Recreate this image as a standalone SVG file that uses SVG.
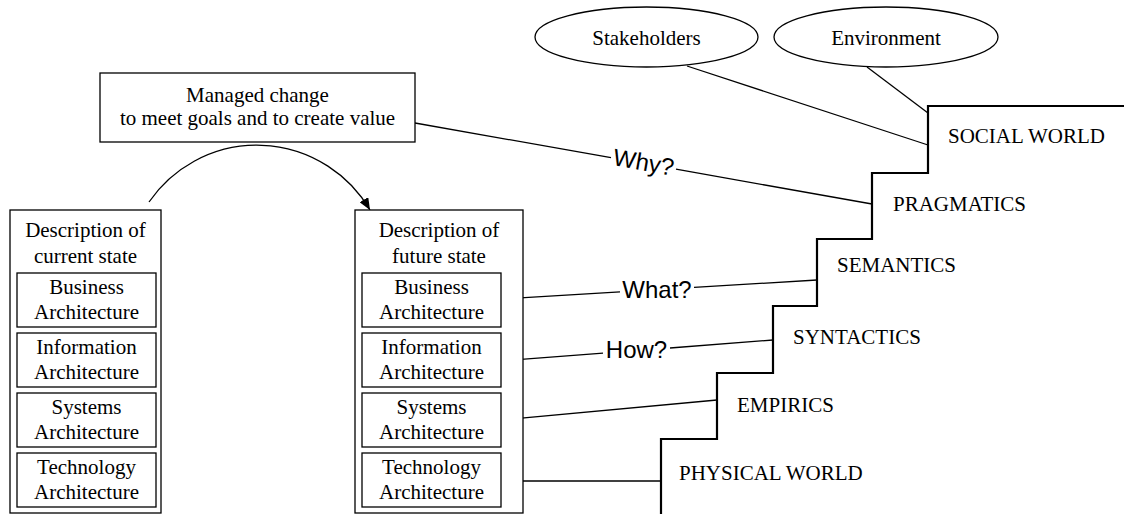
<svg xmlns="http://www.w3.org/2000/svg" width="1124" height="514" viewBox="0 0 1124 514">
  <style>
    .box { fill: #fff; stroke: #000; stroke-width: 1.3; }
    .ell { fill: #fff; stroke: #000; stroke-width: 1.3; }
    .line { fill: none; stroke: #000; stroke-width: 1.3; }
    .stair { fill: none; stroke: #000; stroke-width: 2.2; stroke-linejoin: miter; }
    .serif { font-family: "Liberation Serif", "Times New Roman", serif; font-size: 21px; fill: #000; }
    .mid { text-anchor: middle; }
    .sans { font-family: "Liberation Sans", Arial, sans-serif; font-size: 24px; fill: #000; text-anchor: middle; }
  </style>
  <defs>
    <marker id="arrow" viewBox="0 0 12 10" refX="12" refY="5" markerWidth="12" markerHeight="10" markerUnits="userSpaceOnUse" orient="auto">
      <path d="M0,0 L12,5 L0,10 Z" fill="#000"/>
    </marker>
  </defs>

  <rect width="1124" height="514" fill="#fff"/>

  <!-- semiotic staircase -->
  <g id="staircase">
    <path class="stair" d="M661,514 V439 H717 V373 H773 V306 H817 V239 H872 V173 H928 V106 H1124"/>
    <text class="serif" x="948" y="143">SOCIAL WORLD</text>
    <text class="serif" x="893" y="211">PRAGMATICS</text>
    <text class="serif" x="837" y="272">SEMANTICS</text>
    <text class="serif" x="793" y="344">SYNTACTICS</text>
    <text class="serif" x="737" y="412">EMPIRICS</text>
    <text class="serif" x="679" y="480">PHYSICAL WORLD</text>
  </g>

  <!-- connectors -->
  <g id="connectors">
    <path class="line" d="M149,202 A131,131 0 0 1 370,210" marker-end="url(#arrow)"/>
    <line class="line" x1="687" y1="66" x2="928" y2="145"/>
    <line class="line" x1="867" y1="67" x2="928" y2="113"/>
    <!-- Why? -->
    <line class="line" x1="415" y1="123" x2="611" y2="157.7"/>
    <line class="line" x1="676" y1="169.2" x2="872" y2="204"/>
    <text class="sans" transform="translate(643.5,163.5) rotate(10)" x="0" y="7">Why?</text>
    <!-- What? -->
    <line class="line" x1="501" y1="299" x2="620" y2="291.8"/>
    <line class="line" x1="694" y1="287.4" x2="817" y2="280"/>
    <text class="sans" x="657" y="298">What?</text>
    <!-- How? -->
    <line class="line" x1="501" y1="361" x2="603" y2="353.1"/>
    <line class="line" x1="670" y1="348" x2="773" y2="340"/>
    <text class="sans" x="636.5" y="358">How?</text>
    <line class="line" x1="501" y1="420" x2="717" y2="400"/>
    <line class="line" x1="501" y1="481" x2="661" y2="481"/>
  </g>

  <g id="stakeholders">
    <ellipse class="ell" cx="646.5" cy="37" rx="111.5" ry="30"/>
    <text class="serif mid" x="646.5" y="45">Stakeholders</text>
  </g>

  <g id="environment">
    <ellipse class="ell" cx="886" cy="37" rx="112" ry="30"/>
    <text class="serif mid" x="886" y="45">Environment</text>
  </g>

  <g id="managed-change">
    <rect class="box" x="100" y="73" width="315" height="69"/>
    <text class="serif mid" x="257.5" y="102">Managed change</text>
    <text class="serif mid" x="257.5" y="125">to meet goals and to create value</text>
  </g>

  <g id="current-state">
    <rect class="box" x="10" y="210" width="151" height="303"/>
    <text class="serif mid" x="85.5" y="237">Description of</text>
    <text class="serif mid" x="85.5" y="263">current state</text>
    <g id="current-business">
      <rect class="box" x="17" y="273" width="139" height="54"/>
      <text class="serif mid" x="86.5" y="294">Business</text>
      <text class="serif mid" x="86.5" y="319">Architecture</text>
    </g>
    <g id="current-information">
      <rect class="box" x="17" y="333" width="139" height="54"/>
      <text class="serif mid" x="86.5" y="354">Information</text>
      <text class="serif mid" x="86.5" y="379">Architecture</text>
    </g>
    <g id="current-systems">
      <rect class="box" x="17" y="393" width="139" height="54"/>
      <text class="serif mid" x="86.5" y="414">Systems</text>
      <text class="serif mid" x="86.5" y="439">Architecture</text>
    </g>
    <g id="current-technology">
      <rect class="box" x="17" y="453" width="139" height="54"/>
      <text class="serif mid" x="86.5" y="474">Technology</text>
      <text class="serif mid" x="86.5" y="499">Architecture</text>
    </g>
  </g>

  <g id="future-state">
    <rect class="box" x="355" y="210" width="168" height="303"/>
    <text class="serif mid" x="439" y="237">Description of</text>
    <text class="serif mid" x="439" y="263">future state</text>
    <g id="future-business">
      <rect class="box" x="362" y="273" width="139" height="54"/>
      <text class="serif mid" x="431.5" y="294">Business</text>
      <text class="serif mid" x="431.5" y="319">Architecture</text>
    </g>
    <g id="future-information">
      <rect class="box" x="362" y="333" width="139" height="54"/>
      <text class="serif mid" x="431.5" y="354">Information</text>
      <text class="serif mid" x="431.5" y="379">Architecture</text>
    </g>
    <g id="future-systems">
      <rect class="box" x="362" y="393" width="139" height="54"/>
      <text class="serif mid" x="431.5" y="414">Systems</text>
      <text class="serif mid" x="431.5" y="439">Architecture</text>
    </g>
    <g id="future-technology">
      <rect class="box" x="362" y="453" width="139" height="54"/>
      <text class="serif mid" x="431.5" y="474">Technology</text>
      <text class="serif mid" x="431.5" y="499">Architecture</text>
    </g>
  </g>
</svg>
